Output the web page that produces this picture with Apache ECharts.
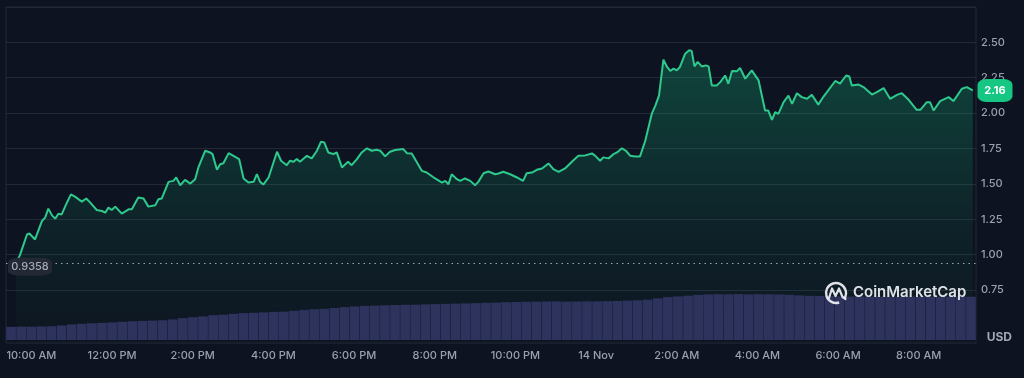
<!DOCTYPE html>
<html>
<head>
<meta charset="utf-8">
<script src="https://cdn.jsdelivr.net/npm/echarts@6/dist/echarts.min.js"></script>
<style>
  html, body { margin: 0; padding: 0; background: #0d1320; }
  #chart { width: 1024px; height: 378px; }
</style>
</head>
<body>
<div id="chart"></div>
<script>
// Time in hours since 13 Nov 00:00
const times = [
  9.62,9.72,9.89,9.95,10.09,10.26,10.34,10.42,10.51,10.59,
  10.67,10.75,10.88,10.98,11.08,11.25,11.36,11.46,11.62,11.75,
  11.83,11.91,11.99,12.08,12.24,12.41,12.49,12.65,12.78,12.90,
  13.07,13.15,13.23,13.40,13.52,13.59,13.69,13.81,13.94,14.06,
  14.14,14.31,14.43,14.49,14.60,14.68,14.76,14.89,15.01,15.15,
  15.26,15.38,15.51,15.59,15.67,15.75,15.88,16.09,16.19,16.33,
  16.41,16.50,16.58,16.66,16.83,16.95,17.08,17.18,17.26,17.36,
  17.49,17.57,17.70,17.85,17.94,18.07,18.19,18.32,18.44,18.56,
  18.65,18.77,18.89,19.02,19.22,19.31,19.43,19.56,19.68,19.80,
  20.01,20.18,20.26,20.34,20.42,20.55,20.63,20.75,20.88,21.00,
  21.08,21.21,21.33,21.50,21.58,21.70,21.87,22.04,22.19,22.28,
  22.41,22.53,22.66,22.82,22.94,23.07,23.23,23.40,23.56,23.73,
  23.90,23.98,24.10,24.18,24.31,24.43,24.52,24.64,24.74,24.85,
  24.97,25.09,25.22,25.38,25.47,25.56,25.67,25.76,25.84,25.92,
  26.00,26.08,26.21,26.31,26.37,26.44,26.52,26.62,26.72,26.79,
  26.87,26.99,27.08,27.20,27.28,27.37,27.49,27.57,27.70,27.86,
  28.03,28.19,28.27,28.36,28.44,28.52,28.65,28.77,28.86,28.98,
  29.10,29.23,29.35,29.51,29.64,29.93,30.05,30.20,30.28,30.34,
  30.51,30.63,30.84,30.96,31.13,31.29,31.46,31.58,31.75,31.95,
  32.04,32.20,32.28,32.37,32.53,32.74,32.86,33.07,33.19,33.34
];
// Price in USD
const prices = [
  0.9358,1.000,1.142,1.149,1.107,1.237,1.261,1.325,1.277,1.254,
  1.289,1.284,1.367,1.426,1.410,1.374,1.396,1.367,1.315,1.308,
  1.296,1.332,1.315,1.339,1.289,1.320,1.320,1.403,1.396,1.339,
  1.348,1.391,1.396,1.514,1.521,1.545,1.490,1.528,1.502,1.533,
  1.616,1.734,1.722,1.710,1.599,1.639,1.646,1.717,1.698,1.675,
  1.538,1.509,1.514,1.568,1.514,1.495,1.545,1.727,1.663,1.632,
  1.663,1.656,1.675,1.656,1.698,1.680,1.734,1.798,1.793,1.722,
  1.710,1.722,1.616,1.656,1.632,1.675,1.722,1.751,1.734,1.741,
  1.734,1.694,1.727,1.739,1.746,1.717,1.715,1.651,1.592,1.580,
  1.538,1.509,1.521,1.497,1.568,1.533,1.521,1.538,1.521,1.490,
  1.514,1.575,1.587,1.568,1.573,1.585,1.568,1.545,1.521,1.575,
  1.580,1.599,1.609,1.644,1.604,1.585,1.609,1.656,1.698,1.701,
  1.715,1.698,1.663,1.687,1.680,1.710,1.722,1.751,1.734,1.698,
  1.694,1.694,1.805,1.994,2.053,2.124,2.378,2.326,2.298,2.314,
  2.302,2.326,2.420,2.444,2.440,2.330,2.362,2.330,2.337,2.330,
  2.195,2.195,2.219,2.266,2.207,2.298,2.295,2.319,2.243,2.302,
  2.231,2.018,2.018,1.952,2.006,1.994,2.077,2.124,2.065,2.141,
  2.113,2.101,2.129,2.060,2.117,2.227,2.208,2.266,2.259,2.195,
  2.202,2.184,2.131,2.148,2.177,2.101,2.129,2.141,2.094,2.023,
  2.023,2.077,2.077,2.018,2.085,2.113,2.085,2.172,2.184,2.160
];
// 24h volume bars (15-minute steps), millions USD
const volumes = [
  13.2,13.4,13.3,13.6,13.8,14.5,15.6,16.2,16.8,17.1,
  17.6,18.2,18.8,19.1,19.4,19.8,20.6,21.9,22.8,23.6,
  24.8,25.3,26.1,26.9,27.2,27.6,28.1,28.4,29.2,30.1,
  30.8,31.2,32.0,32.9,33.6,34.1,34.4,34.7,35.0,35.2,
  35.3,35.6,35.9,36.1,36.4,36.6,36.9,37.2,37.4,37.8,
  38.0,38.2,38.4,38.5,38.6,38.4,38.5,38.7,38.6,38.8,
  39.0,39.4,39.8,40.3,41.6,42.9,43.6,44.3,45.1,45.6,
  45.8,45.7,45.9,45.6,45.8,45.7,45.5,45.2,44.6,44.2,
  44.0,43.8,43.6,43.4,43.5,43.3,43.4,43.2,43.3,43.4,
  43.3,43.2,43.4,43.3,43.5,43.3
];
const xTickHours = [10,12,14,16,18,20,22,24,26,28,30,32];
const xTickLabels = ['10:00 AM','12:00 PM','2:00 PM','4:00 PM','6:00 PM','8:00 PM','10:00 PM','14 Nov','2:00 AM','4:00 AM','6:00 AM','8:00 AM'];
const yTickValues = [0.75,1.00,1.25,1.50,1.75,2.00,2.25,2.50];
const openPrice = 0.9358;
const lastPrice = 2.16;
const xMin = 9.37, xMax = 33.42;

const priceData = times.map((t, i) => [t, prices[i]]);
const volCats = volumes.map((v, i) => i);

// grid lines: axis ticks every 0.125 from 0.375; only show the 0.25 multiples >= 0.75
const splitColors = [];
for (let i = 0; i <= 19; i++) {
  const v = 0.375 + 0.125 * i;
  splitColors.push((i % 2 === 1 && v >= 0.74) ? '#222836' : 'rgba(0,0,0,0)');
}

const FONT = 'Inter, "Noto Sans", sans-serif';
const chart = echarts.init(document.getElementById('chart'), null, { renderer: 'canvas' });
chart.setOption({
  backgroundColor: '#0d1320',
  animation: false,
  grid: [
    { left: 6, right: 48, top: 7, bottom: 35, show: true, borderColor: '#222836', borderWidth: 1, backgroundColor: 'transparent' },
    { left: 6, right: 48, bottom: 38, height: 50 }
  ],
  xAxis: [
    {
      type: 'value', gridIndex: 0, min: xMin, max: xMax,
      axisLine: { show: false }, axisTick: { show: false }, splitLine: { show: false },
      axisLabel: {
        customValues: xTickHours,
        formatter: function (v) { const i = xTickHours.indexOf(v); return i >= 0 ? xTickLabels[i] : ''; },
        color: '#9aa0ae', fontSize: 11, fontFamily: FONT, fontWeight: 500, margin: 7
      }
    },
    {
      type: 'category', gridIndex: 1, data: volCats, show: false, boundaryGap: true
    }
  ],
  yAxis: [
    {
      type: 'value', gridIndex: 0, position: 'right', min: 0.375, max: 2.75, interval: 0.125,
      axisLine: { show: false }, axisTick: { show: false },
      splitLine: { show: true, lineStyle: { color: splitColors, width: 1 } },
      axisLabel: {
        customValues: yTickValues,
        formatter: function (v) { return v.toFixed(2); },
        color: '#9aa0ae', fontSize: 11, fontFamily: FONT, fontWeight: 500, margin: 5
      }
    },
    {
      type: 'value', gridIndex: 1, min: 0, max: 50, show: false, splitLine: { show: false }
    }
  ],
  series: [
    {
      type: 'line', xAxisIndex: 0, yAxisIndex: 0, data: priceData,
      showSymbol: false, symbol: 'none', smooth: false,
      lineStyle: { color: '#2ec98c', width: 2 },
      areaStyle: {
        color: new echarts.graphic.LinearGradient(0, 0, 0, 1, [
          { offset: 0, color: 'rgba(22,199,132,0.40)' },
          { offset: 0.6, color: 'rgba(22,199,132,0.12)' },
          { offset: 1, color: 'rgba(22,199,132,0.02)' }
        ])
      },
      z: 2,
      markLine: {
        silent: true, symbol: 'none',
        lineStyle: { color: 'rgba(220,225,235,0.7)', type: [1.5, 4], width: 1 },
        label: { show: false },
        data: [{ yAxis: openPrice }]
      },
      markPoint: {
        silent: true,
        data: [
          {
            coord: [xMin, openPrice], symbol: 'roundRect', symbolSize: [44, 18], symbolOffset: [24, 3],
            itemStyle: { color: '#222834' },
            label: { show: true, formatter: String(openPrice), color: '#a6acb9', fontSize: 11, fontFamily: FONT, fontWeight: 500 }
          },
          {
            coord: [xMax, lastPrice], symbol: 'roundRect', symbolSize: [35, 23], symbolOffset: [19, 0],
            itemStyle: { color: '#16c784' },
            label: { show: true, formatter: lastPrice.toFixed(2), color: '#ffffff', fontSize: 11, fontFamily: FONT, fontWeight: 700 }
          }
        ]
      }
    },
    {
      type: 'bar', xAxisIndex: 1, yAxisIndex: 1, data: volumes,
      barCategoryGap: '4%', itemStyle: { color: '#2d335c' }, z: 3, silent: true
    }
  ],
  graphic: [
    { type: 'text', right: 12, top: 331, z: 10, style: { text: 'USD', fill: '#a0a6b4', font: '700 12px ' + FONT } },
    { type: 'arc', z: 20, shape: { cx: 836, cy: 293, r: 10, startAngle: 1.25, endAngle: 6.85, clockwise: true },
      style: { stroke: 'rgba(240,242,246,0.92)', lineWidth: 2.4, fill: null } },
    { type: 'polyline', z: 20, shape: { points: [[829, 298], [832, 288.5], [835.5, 296], [839, 288.5], [842.5, 297], [845.5, 299]] },
      style: { stroke: 'rgba(240,242,246,0.92)', lineWidth: 2.2, fill: null, lineJoin: 'round', lineCap: 'round' } },
    { type: 'text', left: 853, top: 285, z: 20, style: { text: 'CoinMarketCap', fill: 'rgba(240,242,246,0.92)', font: '600 15px ' + FONT } }
  ]
});
</script>
</body>
</html>
